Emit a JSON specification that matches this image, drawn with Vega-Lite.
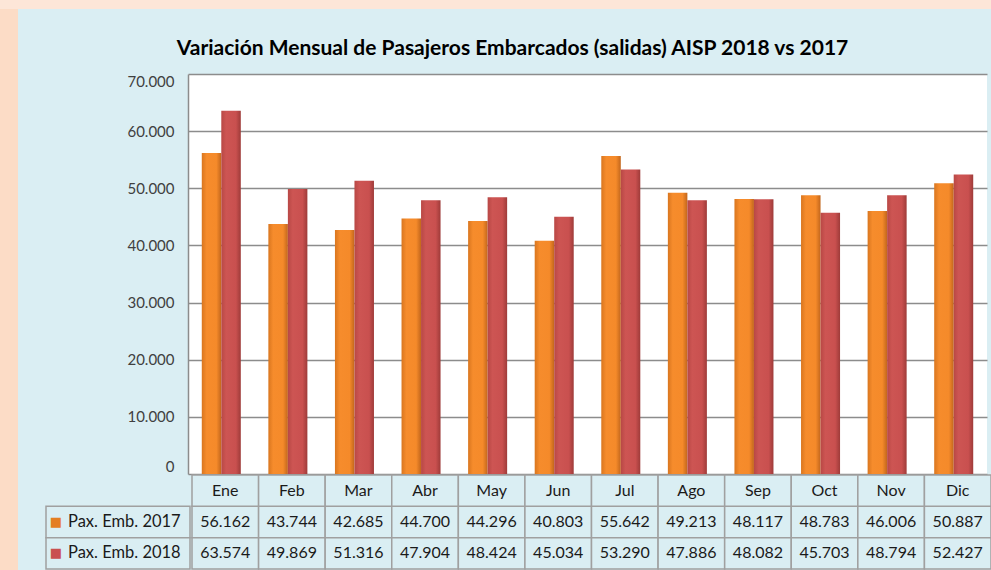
{
  "$schema": "https://vega.github.io/schema/vega-lite/v6.json",
  "background": "#DAEEF3",
  "padding": 0,
  "spacing": 0,
  "config": {
    "locale": {"number": {"decimal": ",", "thousands": ".", "grouping": [3], "currency": ["$", ""]}},
    "font": "Lato",
    "view": {"stroke": null},
    "concat": {"spacing": 0}
  },
  "datasets": {
    "pax": [
      {"mes": "Ene", "serie": "Pax. Emb. 2017", "valor": 56162},
      {"mes": "Feb", "serie": "Pax. Emb. 2017", "valor": 43744},
      {"mes": "Mar", "serie": "Pax. Emb. 2017", "valor": 42685},
      {"mes": "Abr", "serie": "Pax. Emb. 2017", "valor": 44700},
      {"mes": "May", "serie": "Pax. Emb. 2017", "valor": 44296},
      {"mes": "Jun", "serie": "Pax. Emb. 2017", "valor": 40803},
      {"mes": "Jul", "serie": "Pax. Emb. 2017", "valor": 55642},
      {"mes": "Ago", "serie": "Pax. Emb. 2017", "valor": 49213},
      {"mes": "Sep", "serie": "Pax. Emb. 2017", "valor": 48117},
      {"mes": "Oct", "serie": "Pax. Emb. 2017", "valor": 48783},
      {"mes": "Nov", "serie": "Pax. Emb. 2017", "valor": 46006},
      {"mes": "Dic", "serie": "Pax. Emb. 2017", "valor": 50887},
      {"mes": "Ene", "serie": "Pax. Emb. 2018", "valor": 63574},
      {"mes": "Feb", "serie": "Pax. Emb. 2018", "valor": 49869},
      {"mes": "Mar", "serie": "Pax. Emb. 2018", "valor": 51316},
      {"mes": "Abr", "serie": "Pax. Emb. 2018", "valor": 47904},
      {"mes": "May", "serie": "Pax. Emb. 2018", "valor": 48424},
      {"mes": "Jun", "serie": "Pax. Emb. 2018", "valor": 45034},
      {"mes": "Jul", "serie": "Pax. Emb. 2018", "valor": 53290},
      {"mes": "Ago", "serie": "Pax. Emb. 2018", "valor": 47886},
      {"mes": "Sep", "serie": "Pax. Emb. 2018", "valor": 48082},
      {"mes": "Oct", "serie": "Pax. Emb. 2018", "valor": 45703},
      {"mes": "Nov", "serie": "Pax. Emb. 2018", "valor": 48794},
      {"mes": "Dic", "serie": "Pax. Emb. 2018", "valor": 52427}
    ]
  },
  "vconcat": [
    {
      "width": 991, "height": 9,
      "view": {"fill": "#FDE6D8", "stroke": null},
      "data": {"values": [{}]},
      "mark": {"type": "point", "opacity": 0, "size": 0, "strokeWidth": 0},
      "encoding": {}
    },
    {
      "spacing": 27,
      "hconcat": [
        {
          "width": 18, "height": 561,
          "view": {"fill": "#FCDCC6", "stroke": null},
          "data": {"values": [{}]},
          "mark": {"type": "point", "opacity": 0, "size": 0, "strokeWidth": 0},
          "encoding": {}
        },
        {
          "spacing": 0,
          "vconcat": [
            {
              "width": 1, "height": 29,
              "data": {"values": [{}]},
              "mark": {"type": "point", "opacity": 0, "size": 0, "strokeWidth": 0},
              "encoding": {}
            },
            {
              "spacing": 0,
              "hconcat": [
                {
                  "width": 1, "height": 1,
                  "data": {"values": [{}]},
                  "mark": {"type": "point", "opacity": 0, "size": 0, "strokeWidth": 0},
                  "encoding": {}
                },
                {
                  "width": 799, "height": 400,
                  "title": {"text": "Variación Mensual de Pasajeros Embarcados (salidas) AISP 2018 vs 2017", "frame": "group", "anchor": "middle", "fontSize": 21, "fontWeight": "bold", "font": "Lato", "color": "#000000", "offset": 15, "dx": -75},
                  "view": {"fill": "#FFFFFF", "stroke": null},
                  "data": {"name": "pax"},
                  "encoding": {
                    "x": {"field": "mes", "type": "nominal", "sort": ["Ene","Feb","Mar","Abr","May","Jun","Jul","Ago","Sep","Oct","Nov","Dic"], "scale": {"paddingInner": 0.414, "paddingOuter": 0.207}, "axis": null},
                    "y": {"field": "valor", "type": "quantitative", "scale": {"domain": [0, 70000], "nice": false}, "axis": {"title": null, "values": [0,10000,20000,30000,40000,50000,60000,70000], "format": ",d", "grid": true, "gridColor": "#8C8C8C", "gridWidth": 1.5, "domainColor": "#8C8C8C", "domainWidth": 1.5, "ticks": false, "labelPadding": 14, "labelFontSize": 15, "labelColor": "#404040", "labelFont": "Lato", "labelFlush": true, "minExtent": 141, "maxExtent": 141}}
                  },
                  "layer": [
                    {
                      "transform": [{"filter": "datum.serie == 'Pax. Emb. 2017'"}],
                      "mark": {"type": "bar", "color": {"gradient": "linear", "x1": 0, "y1": 0, "x2": 1, "y2": 0, "stops": [{"offset": 0, "color": "#D9761F"}, {"offset": 0.25, "color": "#F68C2C"}, {"offset": 0.75, "color": "#F58A2A"}, {"offset": 1, "color": "#C2661C"}]}},
                      "encoding": {"xOffset": {"field": "serie", "type": "nominal", "scale": {"domain": ["Pax. Emb. 2017", "Pax. Emb. 2018"]}}}
                    },
                    {
                      "transform": [{"filter": "datum.serie == 'Pax. Emb. 2018'"}],
                      "mark": {"type": "bar", "color": {"gradient": "linear", "x1": 0, "y1": 0, "x2": 1, "y2": 0, "stops": [{"offset": 0, "color": "#B84845"}, {"offset": 0.25, "color": "#CD5553"}, {"offset": 0.75, "color": "#C9504F"}, {"offset": 1, "color": "#9E3B39"}]}},
                      "encoding": {"xOffset": {"field": "serie", "type": "nominal", "scale": {"domain": ["Pax. Emb. 2017", "Pax. Emb. 2018"]}}}
                    },
                    {
                      "data": {"values": [{"t": "Fuente: Gcia. de Operaciones – STA-GEE-DEAC"}]},
                      "mark": {"type": "text", "fontSize": 14.5, "fontWeight": "bold", "font": "Lato", "color": "#000000"},
                      "encoding": {"x": {"datum": "Sep"}, "y": {"datum": 67550}, "text": {"field": "t"}}
                    }
                  ]
                }
              ]
            },
            {
              "spacing": 0,
              "hconcat": [
                {
                  "width": 144, "height": 94,
                  "data": {"name": "pax"},
                  "transform": [{"filter": "datum.mes == 'Ene'"}],
                  "encoding": {"y": {"field": "serie", "type": "nominal", "scale": {"domain": ["Mes", "Pax. Emb. 2017", "Pax. Emb. 2018"], "paddingInner": 0, "paddingOuter": 0}, "axis": null}},
                  "layer": [
                    {"mark": {"type": "rect", "fill": "#DAEEF3", "stroke": "#A0A0A0", "strokeWidth": 1.5}},
                    {"mark": {"type": "text", "align": "left", "dx": -50, "fontSize": 16.5, "color": "#1A1A1A"}, "encoding": {"text": {"field": "serie"}}},
                    {"mark": {"type": "text", "text": "■", "dx": -62, "fontSize": 13, "font": "DejaVu Sans"}, "encoding": {"color": {"field": "serie", "type": "nominal", "scale": {"domain": ["Pax. Emb. 2017", "Pax. Emb. 2018"], "range": ["#E47E22", "#C9504F"]}, "legend": null}}}
                  ]
                },
                {
                  "width": 799, "height": 94,
                  "data": {"name": "pax"},
                  "encoding": {
                    "x": {"field": "mes", "type": "nominal", "sort": ["Ene","Feb","Mar","Abr","May","Jun","Jul","Ago","Sep","Oct","Nov","Dic"], "scale": {"paddingInner": 0, "paddingOuter": 0}, "axis": null}
                  },
                  "layer": [
                    {"mark": {"type": "rect", "fill": "#DAEEF3", "stroke": "#A0A0A0", "strokeWidth": 1.5}, "encoding": {"y": {"field": "serie", "type": "nominal", "scale": {"domain": ["Mes", "Pax. Emb. 2017", "Pax. Emb. 2018"], "paddingInner": 0, "paddingOuter": 0}, "axis": null}}},
                    {"mark": {"type": "text", "fontSize": 16, "color": "#1A1A1A"}, "encoding": {"y": {"field": "serie", "type": "nominal", "axis": null}, "text": {"field": "valor", "type": "quantitative", "format": ",d"}}},
                    {"transform": [{"filter": "datum.serie == 'Pax. Emb. 2017'"}], "mark": {"type": "rect", "fill": "#DAEEF3", "stroke": "#A0A0A0", "strokeWidth": 1.5}, "encoding": {"y": {"datum": "Mes", "type": "nominal", "axis": null}}},
                    {"transform": [{"filter": "datum.serie == 'Pax. Emb. 2017'"}], "mark": {"type": "text", "fontSize": 16, "color": "#1A1A1A"}, "encoding": {"y": {"datum": "Mes", "type": "nominal", "axis": null}, "text": {"field": "mes", "type": "nominal"}}}
                  ]
                }
              ]
            }
          ]
        }
      ]
    }
  ]
}
